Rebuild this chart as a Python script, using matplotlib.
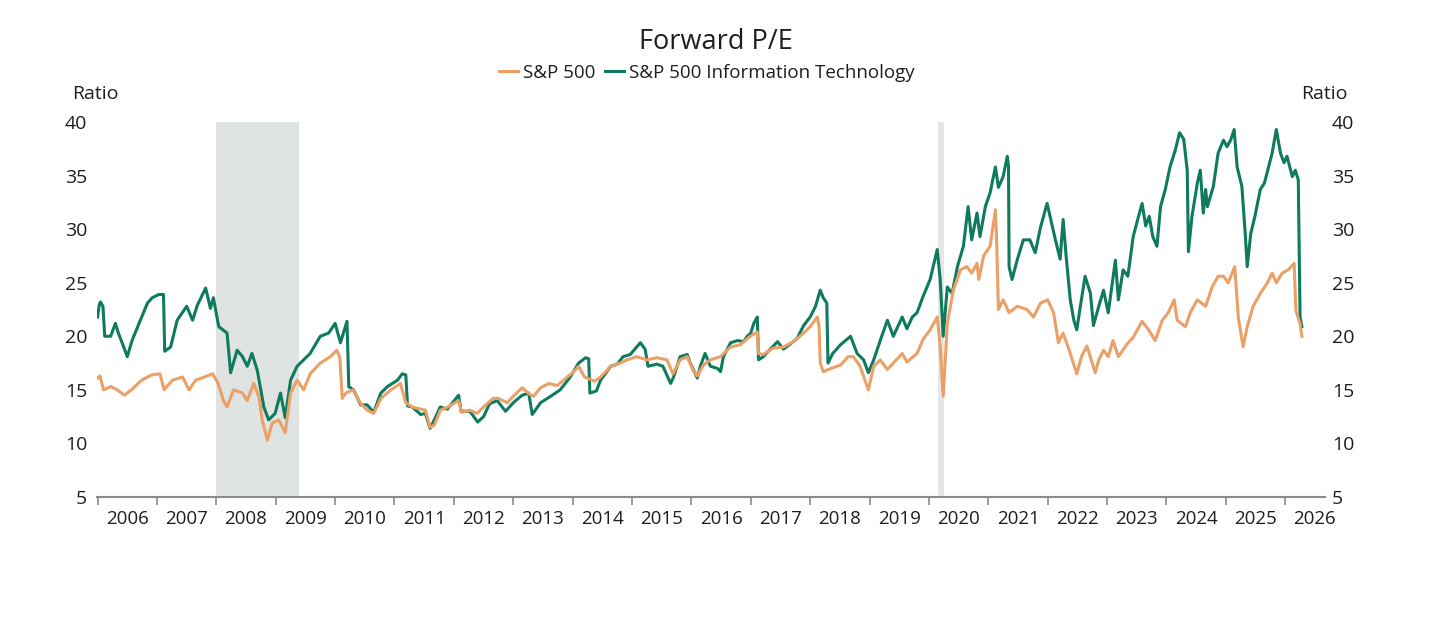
"""Forward P/E: S&P 500 vs S&P 500 Information Technology, 2006-2026."""

import matplotlib
matplotlib.use("Agg")
import matplotlib.pyplot as plt
from matplotlib.ticker import FixedLocator, NullFormatter, FixedFormatter

# --- data (decimal years, ratio) ----------------------------------------
spx_years = [
    2006.00, 2006.04, 2006.10, 2006.22, 2006.33, 2006.45, 2006.57, 2006.74, 2006.91,
    2007.05, 2007.12, 2007.26, 2007.43, 2007.54, 2007.65, 2007.80, 2007.94,
    2008.03, 2008.12, 2008.18, 2008.29, 2008.44, 2008.52, 2008.63, 2008.72, 2008.77,
    2008.86, 2008.94, 2009.05, 2009.16, 2009.25, 2009.36, 2009.47, 2009.58, 2009.75,
    2009.92, 2010.03, 2010.08, 2010.12, 2010.18, 2010.30, 2010.42, 2010.54, 2010.65,
    2010.77, 2010.94, 2011.10, 2011.19, 2011.30, 2011.44, 2011.52, 2011.60, 2011.67,
    2011.77, 2011.90, 2012.08, 2012.13, 2012.27, 2012.39, 2012.50, 2012.66, 2012.75,
    2012.90, 2013.00, 2013.15, 2013.25, 2013.34, 2013.46, 2013.60, 2013.74, 2013.91,
    2014.02, 2014.10, 2014.20, 2014.37, 2014.47, 2014.64, 2014.80, 2014.92, 2015.08,
    2015.25, 2015.42, 2015.59, 2015.69, 2015.81, 2015.93, 2016.03, 2016.10, 2016.20,
    2016.32, 2016.49, 2016.66, 2016.82, 2016.99, 2017.11, 2017.13, 2017.21, 2017.38,
    2017.55, 2017.72, 2017.89, 2018.00, 2018.12, 2018.15, 2018.17, 2018.22, 2018.35,
    2018.51, 2018.64, 2018.73, 2018.84, 2018.98, 2019.07, 2019.18, 2019.30, 2019.40,
    2019.55, 2019.63, 2019.80, 2019.90, 2020.02, 2020.14, 2020.19, 2020.24, 2020.31,
    2020.41, 2020.53, 2020.64, 2020.72, 2020.81, 2020.84, 2020.92, 2021.03, 2021.12,
    2021.14, 2021.17, 2021.25, 2021.35, 2021.49, 2021.65, 2021.76, 2021.88, 2022.00,
    2022.10, 2022.18, 2022.26, 2022.38, 2022.49, 2022.57, 2022.66, 2022.80, 2022.86,
    2022.94, 2023.02, 2023.10, 2023.19, 2023.34, 2023.44, 2023.59, 2023.70, 2023.81,
    2023.93, 2024.03, 2024.13, 2024.18, 2024.25, 2024.32, 2024.40, 2024.52, 2024.66,
    2024.77, 2024.87, 2024.96, 2025.04, 2025.15, 2025.21, 2025.29, 2025.36, 2025.46,
    2025.58, 2025.70, 2025.78, 2025.85, 2025.95, 2026.05, 2026.15, 2026.18, 2026.25,
    2026.28,
]
spx_pe = [
    16.1, 16.3, 15.0, 15.3, 15.0, 14.5, 15.0, 15.9, 16.4,
    16.5, 15.0, 15.9, 16.2, 15.0, 15.9, 16.2, 16.5,
    15.6, 14.0, 13.4, 15.0, 14.7, 14.0, 15.6, 14.3, 12.2,
    10.3, 11.9, 12.2, 11.0, 14.7, 15.9, 15.0, 16.5, 17.5,
    18.1, 18.7, 18.0, 14.2, 14.7, 15.0, 13.8, 13.1, 12.8,
    14.2, 15.0, 15.6, 13.8, 13.4, 13.2, 13.1, 11.5, 11.7,
    13.1, 13.4, 14.0, 12.9, 13.1, 12.8, 13.4, 14.2, 14.2,
    13.8, 14.4, 15.2, 14.7, 14.4, 15.2, 15.6, 15.4, 16.2,
    16.7, 17.2, 16.2, 15.8, 16.2, 17.2, 17.5, 17.8, 18.1,
    17.8, 18.0, 17.8, 16.5, 17.8, 18.1, 16.8, 16.3, 17.3,
    17.8, 18.1, 19.0, 19.2, 20.0, 20.4, 18.4, 18.3, 18.9,
    19.0, 19.5, 20.3, 20.9, 21.8, 20.9, 17.5, 16.7, 17.0,
    17.3, 18.1, 18.1, 17.2, 15.0, 17.2, 17.8, 16.9, 17.5,
    18.4, 17.6, 18.4, 19.7, 20.6, 21.8, 19.1, 14.4, 21.2,
    24.3, 26.2, 26.5, 25.9, 26.8, 25.3, 27.5, 28.4, 31.8,
    29.0, 22.5, 23.4, 22.2, 22.8, 22.5, 21.8, 23.1, 23.4,
    22.2, 19.4, 20.3, 18.4, 16.5, 18.1, 19.1, 16.6, 17.8,
    18.7, 18.1, 19.6, 18.1, 19.3, 19.9, 21.4, 20.6, 19.6,
    21.5, 22.2, 23.4, 21.5, 21.2, 20.9, 22.2, 23.4, 22.8,
    24.6, 25.6, 25.6, 25.0, 26.5, 21.8, 19.0, 20.9, 22.8,
    24.0, 25.0, 25.9, 25.0, 25.9, 26.2, 26.8, 22.4, 21.2,
    20.0,
]

it_years = [
    2006.00, 2006.03, 2006.05, 2006.09, 2006.12, 2006.22, 2006.30, 2006.35, 2006.44,
    2006.50, 2006.58, 2006.72, 2006.84, 2006.92, 2007.03, 2007.11, 2007.13, 2007.23,
    2007.34, 2007.50, 2007.60, 2007.68, 2007.82, 2007.90, 2007.95, 2008.04, 2008.18,
    2008.24, 2008.35, 2008.44, 2008.52, 2008.60, 2008.69, 2008.80, 2008.88, 2008.99,
    2009.08, 2009.16, 2009.25, 2009.36, 2009.47, 2009.58, 2009.75, 2009.89, 2010.00,
    2010.09, 2010.20, 2010.23, 2010.31, 2010.43, 2010.54, 2010.65, 2010.77, 2010.88,
    2011.05, 2011.13, 2011.19, 2011.22, 2011.30, 2011.44, 2011.52, 2011.60, 2011.67,
    2011.77, 2011.89, 2012.08, 2012.12, 2012.27, 2012.40, 2012.50, 2012.60, 2012.73,
    2012.87, 2013.00, 2013.15, 2013.26, 2013.32, 2013.46, 2013.63, 2013.79, 2013.96,
    2014.10, 2014.22, 2014.27, 2014.29, 2014.40, 2014.47, 2014.64, 2014.75, 2014.85,
    2014.97, 2015.14, 2015.22, 2015.27, 2015.42, 2015.52, 2015.65, 2015.70, 2015.81,
    2015.93, 2015.98, 2016.10, 2016.15, 2016.23, 2016.32, 2016.44, 2016.49, 2016.54,
    2016.66, 2016.78, 2016.88, 2016.94, 2017.00, 2017.05, 2017.11, 2017.13, 2017.21,
    2017.33, 2017.45, 2017.55, 2017.67, 2017.78, 2017.89, 2018.00, 2018.09, 2018.17,
    2018.22, 2018.28, 2018.30, 2018.38, 2018.51, 2018.68, 2018.79, 2018.90, 2018.98,
    2019.07, 2019.18, 2019.30, 2019.40, 2019.55, 2019.63, 2019.72, 2019.80, 2019.90,
    2020.02, 2020.14, 2020.19, 2020.24, 2020.31, 2020.39, 2020.48, 2020.58, 2020.66,
    2020.72, 2020.81, 2020.86, 2020.95, 2021.03, 2021.12, 2021.17, 2021.25, 2021.32,
    2021.34, 2021.35, 2021.40, 2021.49, 2021.59, 2021.70, 2021.79, 2021.88, 2021.99,
    2022.04, 2022.13, 2022.21, 2022.26, 2022.31, 2022.38, 2022.44, 2022.49, 2022.55,
    2022.63, 2022.72, 2022.77, 2022.86, 2022.94, 2023.02, 2023.14, 2023.19, 2023.27,
    2023.35, 2023.44, 2023.53, 2023.59, 2023.65, 2023.71, 2023.77, 2023.84, 2023.90,
    2023.98, 2024.06, 2024.15, 2024.22, 2024.29, 2024.35, 2024.37, 2024.43, 2024.52,
    2024.57, 2024.62, 2024.66, 2024.69, 2024.79, 2024.87, 2024.96, 2025.02, 2025.08,
    2025.14, 2025.19, 2025.27, 2025.33, 2025.36, 2025.42, 2025.49, 2025.58, 2025.65,
    2025.78, 2025.85, 2025.92, 2025.98, 2026.03, 2026.12, 2026.17, 2026.22, 2026.25,
    2026.28,
]
it_pe = [
    21.8, 23.0, 23.2, 22.8, 20.0, 20.0, 21.2, 20.3, 19.0,
    18.1, 19.6, 21.5, 23.1, 23.6, 23.9, 23.9, 18.6, 19.0,
    21.5, 22.8, 21.5, 22.9, 24.5, 22.6, 23.6, 20.9, 20.3,
    16.6, 18.7, 18.1, 17.2, 18.4, 16.8, 13.4, 12.2, 12.8,
    14.7, 12.4, 15.9, 17.2, 17.8, 18.4, 20.0, 20.3, 21.2,
    19.4, 21.4, 15.3, 15.0, 13.6, 13.6, 12.9, 14.7, 15.3,
    15.9, 16.5, 16.4, 13.5, 13.4, 12.7, 12.8, 11.4, 12.2,
    13.4, 13.2, 14.5, 13.0, 13.0, 12.0, 12.5, 13.7, 14.0,
    13.0, 13.8, 14.5, 14.7, 12.7, 13.8, 14.4, 15.0, 16.2,
    17.5, 18.0, 17.9, 14.7, 14.9, 15.9, 17.2, 17.4, 18.1,
    18.3, 19.4, 18.8, 17.2, 17.4, 17.2, 15.6, 16.2, 18.1,
    18.3, 17.5, 16.1, 17.2, 18.4, 17.2, 17.0, 16.7, 18.1,
    19.4, 19.6, 19.5, 20.0, 20.3, 21.2, 21.8, 17.8, 18.1,
    18.8, 19.5, 18.8, 19.3, 19.8, 21.0, 21.8, 22.8, 24.3,
    23.6, 23.1, 17.5, 18.4, 19.2, 20.0, 18.4, 17.8, 16.6,
    17.8, 19.6, 21.5, 20.0, 21.8, 20.7, 21.8, 22.2, 23.7,
    25.3, 28.1, 25.3, 20.0, 24.6, 24.0, 26.5, 28.4, 32.1,
    29.0, 31.5, 29.3, 32.1, 33.4, 35.8, 33.9, 34.9, 36.8,
    35.8, 26.5, 25.3, 27.2, 29.0, 29.0, 27.8, 30.2, 32.4,
    31.2, 29.0, 27.2, 30.9, 27.5, 23.4, 21.5, 20.6, 22.8,
    25.6, 24.0, 21.0, 22.8, 24.3, 22.2, 27.1, 23.4, 26.2,
    25.6, 29.3, 31.2, 32.4, 30.3, 31.2, 29.3, 28.4, 32.1,
    33.7, 35.8, 37.4, 39.0, 38.4, 35.5, 27.9, 31.2, 34.3,
    35.5, 31.5, 33.7, 32.1, 34.0, 37.1, 38.3, 37.7, 38.3,
    39.3, 35.8, 34.0, 29.3, 26.5, 29.6, 31.2, 33.7, 34.3,
    37.1, 39.3, 37.1, 36.2, 36.8, 34.9, 35.5, 34.6, 21.8,
    20.9,
]

# recession bands (start, end) in decimal years
recessions = [(2008.00, 2009.40), (2020.16, 2020.26)]
recession_colors = ["#dfe3e2", "#e6e6e6"]

year_edges = list(range(2006, 2027))
year_labels = [str(y) for y in range(2006, 2027)]
y_ticks = [5, 10, 15, 20, 25, 30, 35, 40]

SPX_COLOR = "#eaa066"
IT_COLOR = "#0e7a5e"
TEXT_COLOR = "#1e1e1e"
FONT = ["Open Sans", "DejaVu Sans"]

plt.rcParams.update({
    "font.family": FONT,
    "font.size": 13.5,
    "text.color": TEXT_COLOR,
    "xtick.color": TEXT_COLOR,
    "ytick.color": TEXT_COLOR,
})

fig = plt.figure(figsize=(14.56, 6.42), dpi=100)
ax = fig.add_axes([97 / 1456, 1 - 497 / 642, 1228 / 1456, 375 / 642])

for (x0, x1), c in zip(recessions, recession_colors):
    ax.axvspan(x0, x1, color=c, lw=0, zorder=0)

ax.plot(it_years, it_pe, color=IT_COLOR, lw=2.2, zorder=2,
        label="S&P 500 Information Technology")
ax.plot(spx_years, spx_pe, color=SPX_COLOR, lw=2.2, zorder=3, label="S&P 500")

ax.set_xlim(2005.99, 2026.67)
ax.set_ylim(5, 40)

# year boundaries get tick marks, labels sit mid-year
ax.xaxis.set_major_locator(FixedLocator(year_edges))
ax.xaxis.set_major_formatter(NullFormatter())
ax.xaxis.set_minor_locator(FixedLocator([y + 0.5 for y in year_edges]))
ax.xaxis.set_minor_formatter(FixedFormatter(year_labels))
ax.tick_params(axis="x", which="major", direction="out", length=6,
               width=1.2, color="#8a8a8a")
ax.tick_params(axis="x", which="minor", length=0, pad=9, labelsize=13.5)

ax.set_yticks(y_ticks)
ax.tick_params(axis="y", length=0, pad=7, labelsize=14)

ax2 = ax.twinx()
ax2.set_ylim(ax.get_ylim())
ax2.set_yticks(y_ticks)
ax2.tick_params(axis="y", length=0, pad=5, labelsize=14)

for a in (ax, ax2):
    for side in ("top", "left", "right", "bottom"):
        a.spines[side].set_visible(False)
ax.spines["bottom"].set_visible(True)
ax.spines["bottom"].set_color("#8a8a8a")
ax.spines["bottom"].set_linewidth(1.5)

fig.text(72 / 1456, 1 - 94 / 642, "Ratio", ha="left", va="center", fontsize=14)
fig.text(1348 / 1456, 1 - 94 / 642, "Ratio", ha="right", va="center", fontsize=14)

fig.text(716 / 1456, 1 - 42 / 642, "Forward P/E", ha="center", va="center",
         fontsize=19.5)

handles, labels = ax.get_legend_handles_labels()
fig.legend(handles[::-1], labels[::-1], loc="center", ncol=2,
           bbox_to_anchor=(707 / 1456, 1 - 73 / 642), frameon=False,
           fontsize=13.5, handlelength=1.0, handletextpad=0.3,
           columnspacing=0.5, borderpad=0)

fig.savefig("out.png", dpi=100, facecolor="white")
